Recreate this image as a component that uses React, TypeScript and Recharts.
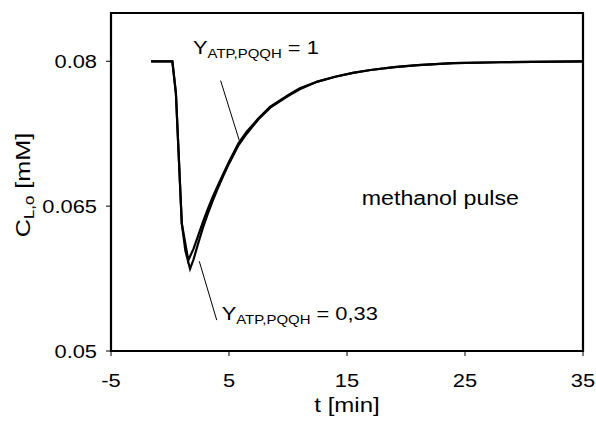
import React from 'react';
import {
  LineChart,
  Line,
  XAxis,
  YAxis,
  ReferenceArea,
  ReferenceLine,
  ReferenceDot,
} from 'recharts';

// Y_ATP,PQQH = 1
const timeY1 = [-1.6, 0.2, 0.5, 1.0, 1.55, 2.0, 2.4, 2.8, 3.2, 3.6, 4.0, 4.5, 5.0, 5.8, 6.5, 7.5, 8.5, 10, 11, 12.5, 14, 15.5, 17, 19, 21, 24, 28, 35];
const concY1 = [0.08, 0.08, 0.0767, 0.0632, 0.0594, 0.0606, 0.062, 0.0634, 0.0647, 0.0659, 0.067, 0.0683, 0.0696, 0.0715, 0.0727, 0.0741, 0.0753, 0.0765, 0.0772, 0.0779, 0.0784, 0.0788, 0.0791, 0.0794, 0.0796, 0.0798, 0.0799, 0.08];

// Y_ATP,PQQH = 0,33
const timeY033 = [-1.6, 0.2, 0.5, 1.0, 1.3, 1.7, 2.0, 2.4, 2.8, 3.2, 3.6, 4.0, 4.5, 5.0, 5.8, 6.5, 7.5, 8.5, 10, 11, 12.5, 14, 15.5, 17, 19, 21, 24, 28, 35];
const concY033 = [0.08, 0.08, 0.0767, 0.0632, 0.0604, 0.0585, 0.0595, 0.0612, 0.0628, 0.0642, 0.0655, 0.0667, 0.0681, 0.0694, 0.0713, 0.0725, 0.074, 0.0752, 0.0764, 0.0771, 0.0779, 0.0784, 0.0788, 0.0791, 0.0794, 0.0796, 0.0798, 0.0799, 0.08];

const xTicks = [-5, 5, 15, 25, 35];
const xTickLabels = ['-5', '5', '15', '25', '35'];
const yTicks = [0.05, 0.065, 0.08];
const yTickLabels = ['0.05', '0.065', '0.08'];

const seriesY1 = timeY1.map((t, i) => ({ t, c: concY1[i] }));
const seriesY033 = timeY033.map((t, i) => ({ t, c: concY033[i] }));

const FONT = '"Liberation Sans", Arial, sans-serif';
const SX = 1.15; // the original lettering is a little wider than Arial

const XTick = (props: any) => {
  const { x, y, index } = props;
  return (
    <text transform={`translate(${x},${y}) scale(${SX},1)`} textAnchor="middle" dy="0.71em" fontSize={19} fontFamily={FONT} fill="#000">
      {xTickLabels[index]}
    </text>
  );
};

const YTick = (props: any) => {
  const { x, y, index } = props;
  return (
    <text transform={`translate(${x},${y}) scale(${SX},1)`} textAnchor="end" dy="0.36em" fontSize={19} fontFamily={FONT} fill="#000">
      {yTickLabels[index]}
    </text>
  );
};

const yieldLabel = (value: string) => (props: any) => {
  const vb = props.viewBox || {};
  return (
    <text transform={`translate(${vb.x},${vb.y}) scale(${SX},1)`} fontSize={19} fontFamily={FONT} fill="#000">
      <tspan>Y</tspan>
      <tspan fontSize={13} dy={4}>ATP,PQQH</tspan>
      <tspan dy={-4}>{` = ${value}`}</tspan>
    </text>
  );
};

const pulseLabel = (props: any) => {
  const vb = props.viewBox || {};
  return (
    <text transform={`translate(${vb.x},${vb.y}) scale(1.16,1)`} fontSize={20} fontFamily={FONT} fill="#000">
      methanol pulse
    </text>
  );
};

const xAxisLabel = (props: any) => {
  const vb = props.viewBox || {};
  return (
    <text transform={`translate(${vb.x + vb.width / 2},${vb.y + 61}) scale(1.2,1)`} textAnchor="middle" fontSize={20} fontFamily={FONT} fill="#000">
      t [min]
    </text>
  );
};

const yAxisLabel = (props: any) => {
  const vb = props.viewBox || {};
  return (
    <text transform={`translate(${vb.x - 11},${vb.y + vb.height / 2 + 3}) rotate(-90) scale(1.2,1)`} textAnchor="middle" fontSize={21} fontFamily={FONT} fill="#000">
      <tspan>C</tspan>
      <tspan fontSize={14} dy={4}>L,o</tspan>
      <tspan dy={-4}> [mM]</tspan>
    </text>
  );
};

export default function App() {
  return (
    <div style={{ position: 'absolute', left: 0, top: 0, background: '#fff' }}>
      <LineChart width={596} height={429} margin={{ top: 13, right: 13, bottom: 48, left: 41 }}>
        <XAxis
          dataKey="t"
          type="number"
          domain={[-5, 35]}
          ticks={xTicks}
          axisLine={false}
          tickLine={{ stroke: '#000', strokeWidth: 1 }}
          tickSize={5}
          tickMargin={18}
          tick={XTick}
          height={30}
          label={{ content: xAxisLabel }}
        />
        <YAxis
          type="number"
          domain={[0.05, 0.085]}
          ticks={yTicks}
          axisLine={false}
          tickLine={{ stroke: '#000', strokeWidth: 1 }}
          tickSize={5}
          tickMargin={9}
          tick={YTick}
          width={70}
          label={{ content: yAxisLabel }}
        />
        <ReferenceArea x1={-5} x2={35} y1={0.05} y2={0.085} fill="none" stroke="#000" strokeWidth={2.2} />
        <Line data={seriesY1} dataKey="c" type="linear" stroke="#000" strokeWidth={2.2} dot={false} isAnimationActive={false} />
        <Line data={seriesY033} dataKey="c" type="linear" stroke="#000" strokeWidth={2.2} dot={false} isAnimationActive={false} />
        <ReferenceLine segment={[{ x: 4.29, y: 0.078 }, { x: 5.87, y: 0.0718 }]} stroke="#000" strokeWidth={1} />
        <ReferenceLine segment={[{ x: 2.48, y: 0.0593 }, { x: 3.96, y: 0.0532 }]} stroke="#000" strokeWidth={1} />
        <ReferenceDot x={1.95} y={0.0808} r={0} fill="none" stroke="none" label={yieldLabel('1')} />
        <ReferenceDot x={4.38} y={0.0532} r={0} fill="none" stroke="none" label={yieldLabel('0,33')} />
        <ReferenceDot x={16.25} y={0.0651} r={0} fill="none" stroke="none" label={pulseLabel} />
      </LineChart>
    </div>
  );
}
